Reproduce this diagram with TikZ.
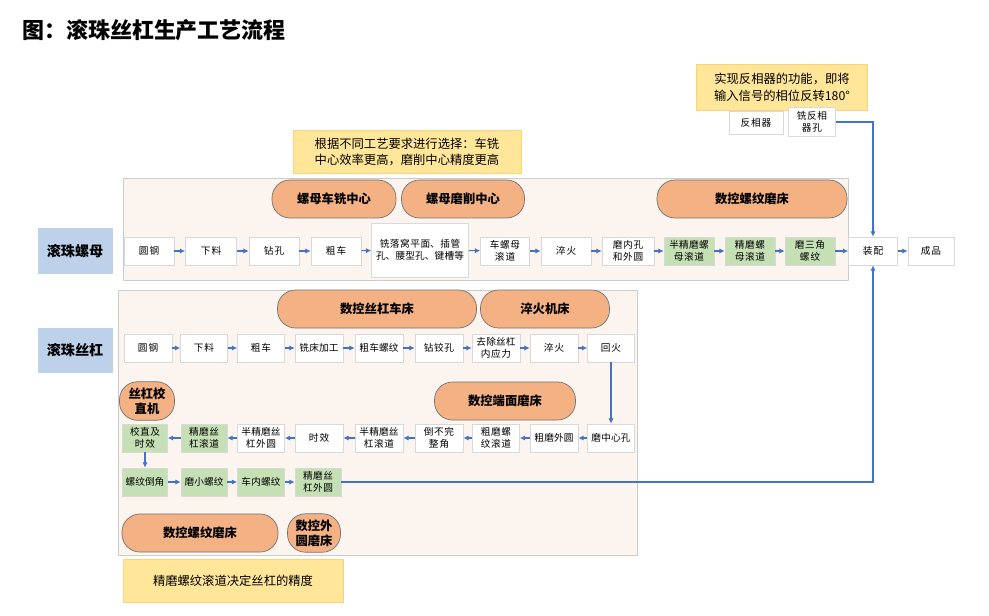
\documentclass[tikz,border=0pt]{standalone}
\usepackage{fontspec}
\setmainfont{Noto Sans CJK SC}
\XeTeXlinebreaklocale "zh"
\XeTeXlinebreakskip = 0pt plus 1pt
\usetikzlibrary{positioning, arrows.meta}
\definecolor{panelpink}{RGB}{252,244,238}
\definecolor{ovalorange}{RGB}{244,177,131}
\definecolor{procgreen}{RGB}{197,224,180}
\definecolor{notebg}{RGB}{255,230,153}
\definecolor{labelblue}{RGB}{189,209,234}
\definecolor{flowblue}{RGB}{68,114,196}

\begin{document}
\begin{tikzpicture}[x=0.2mm, y=-0.2mm,
    proc/.style={rectangle, draw=black!15, fill=white, inner sep=0.5pt, align=center, font=\fontsize{5.5}{6.5}\selectfont, minimum height=28*0.2mm},
    green/.style={fill=procgreen},
    w/.style={minimum width=#1*0.2mm, text width=#1*0.2mm-3pt},
    hh/.style={minimum height=#1*0.2mm},
    machine/.style={rectangle, rounded corners=3.6mm, draw=black!55, fill=ovalorange, align=center, font=\fontsize{7}{8.5}\selectfont\bfseries, minimum height=38*0.2mm},
    note/.style={rectangle, draw=notebg!80!orange, fill=notebg, align=center, font=\fontsize{7}{9.5}\selectfont},
    part/.style={rectangle, fill=labelblue, font=\fontsize{8}{9}\selectfont\bfseries, minimum width=75*0.2mm, minimum height=45*0.2mm},
    flow/.style={-{Latex[length=3pt,width=3pt]}, flowblue, semithick}
]
    \useasboundingbox (0,0) rectangle (989,616);
    \node[anchor=west, font=\fontsize{12.5}{14}\selectfont\bfseries] (title) at (16,30) {图：滚珠丝杠生产工艺流程};

    % panels
    \fill[panelpink, draw=black!20] (123,178) rectangle (848,280);
    \fill[panelpink, draw=black!20] (118,290) rectangle (637,555);

    % notes
    \node[note, minimum width=171*0.2mm, minimum height=46*0.2mm] (noteinv) at (782,87) {实现反相器的功能，即将\\输入信号的相位反转180°};
    \node[note, minimum width=228*0.2mm, minimum height=43*0.2mm] (notenut) at (407,152) {根据不同工艺要求进行选择：车铣\\中心效率更高，磨削中心精度更高};
    \node[note, minimum width=220*0.2mm, minimum height=43*0.2mm] (notescrew) at (233,581) {精磨螺纹滚道决定丝杠的精度};

    % part labels
    \node[part] (nut) at (75,251) {滚珠螺母};
    \node[part] (screw) at (75,350) {滚珠丝杠};

    % machines
    \node[machine, minimum width=124*0.2mm] at (334,199) {螺母车铣中心};
    \node[machine, minimum width=123*0.2mm] at (463,199) {螺母磨削中心};
    \node[machine, minimum width=190*0.2mm] at (752,199) {数控螺纹磨床};
    \node[machine, minimum width=199*0.2mm] at (377,309) {数控丝杠车床};
    \node[machine, minimum width=129*0.2mm] at (545,309) {淬火机床};
    \node[machine, minimum width=55*0.2mm] at (147,401) {丝杠校\\直机};
    \node[machine, minimum width=141*0.2mm] at (505,401) {数控端面磨床};
    \node[machine, minimum width=156*0.2mm] at (200,533) {数控螺纹磨床};
    \node[machine, minimum width=53*0.2mm] at (314,533) {数控外\\圆磨床};

    % inverter
    \node[proc, w=54, hh=23] (inv) at (756,123) {反相器};
    \node[proc, w=47, hh=29] (invhole) at (812,122) {铣反相器孔};

    % nut row
    \node[proc, w=50] (n1) at (149,251) {圆钢};
    \node[proc, w=51] (n2) at (211,251) {下料};
    \node[proc, w=50] (n3) at (274,251) {钻孔};
    \node[proc, w=50] (n4) at (336,251) {粗车};
    \node[proc, w=97, hh=54] (n5) at (420,250) {铣落窝平面、插管孔、腰型孔、键槽等};
    \node[proc, w=49] (n6) at (505,251) {车螺母滚道};
    \node[proc, w=50] (n7) at (566,251) {淬火};
    \node[proc, w=52] (n8) at (628,251) {磨内孔和外圆};
    \node[proc, green, w=50] (n9) at (689,251) {半精磨螺母滚道};
    \node[proc, green, w=50] (n10) at (750,251) {精磨螺母滚道};
    \node[proc, green, w=50] (n11) at (810,251) {磨三角螺纹};
    \node[proc, w=49] (asm) at (873,251) {装配};
    \node[proc, w=46] (prod) at (931,251) {成品};

    % screw row 1
    \node[proc, w=48] (s1) at (148,348) {圆钢};
    \node[proc, w=47] (s2) at (204,348) {下料};
    \node[proc, w=47] (s3) at (261,348) {粗车};
    \node[proc, w=48] (s4) at (319,348) {铣床加工};
    \node[proc, w=48] (s5) at (379,348) {粗车螺纹};
    \node[proc, w=48] (s6) at (439,348) {钻铰孔};
    \node[proc, w=48] (s7) at (496,348) {去除丝杠内应力};
    \node[proc, w=48] (s8) at (554,348) {淬火};
    \node[proc, w=47] (s9) at (611,348) {回火};

    % screw row 2 (right to left)
    \node[proc, w=47] (r1) at (611,438) {磨中心孔};
    \node[proc, w=48] (r2) at (554,438) {粗磨外圆};
    \node[proc, w=47] (r3) at (496,438) {粗磨螺纹滚道};
    \node[proc, w=48] (r4) at (439,438) {倒不完整角};
    \node[proc, w=48] (r5) at (379,438) {半精磨丝杠滚道};
    \node[proc, w=48] (r6) at (319,438) {时效};
    \node[proc, w=47] (r7) at (261,438) {半精磨丝杠外圆};
    \node[proc, green, w=46] (r8) at (204,438) {精磨丝杠滚道};
    \node[proc, green, w=45] (r9) at (145,438) {校直及时效};

    % screw row 3
    \node[proc, green, w=45] (t1) at (145,482) {螺纹倒角};
    \node[proc, green, w=46] (t2) at (204,482) {磨小螺纹};
    \node[proc, green, w=47] (t3) at (261,482) {车内螺纹};
    \node[proc, green, w=46] (t4) at (318,482) {精磨丝杠外圆};

    % connectors
    \foreach \a/\b in {n1/n2, n2/n3, n3/n4, n4/n5, n5/n6, n6/n7, n7/n8, n8/n9, n9/n10, n10/n11, n11/asm, asm/prod,
        s1/s2, s2/s3, s3/s4, s4/s5, s5/s6, s6/s7, s7/s8, s8/s9,
        r1/r2, r2/r3, r3/r4, r4/r5, r5/r6, r6/r7, r7/r8, r8/r9,
        t1/t2, t2/t3, t3/t4, s9/r1, r9/t1}
        \draw[flow] (\a) -- (\b);
    \draw[flow] (invhole.east) -| (asm.north);
    \draw[flow] (t4.east) -| (asm.south);
\end{tikzpicture}
\end{document}
